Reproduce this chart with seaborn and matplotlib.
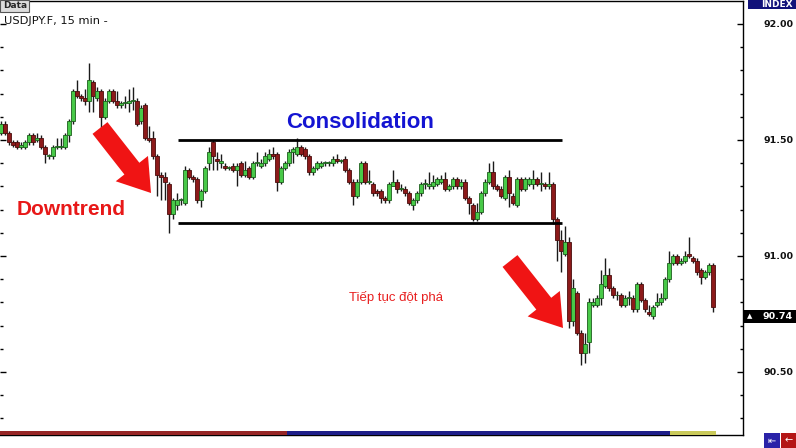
import matplotlib
matplotlib.use("Agg")
import matplotlib.pyplot as plt
import seaborn as sns
import numpy as np
from matplotlib.patches import Rectangle, FancyArrow
from matplotlib.ticker import MultipleLocator, FixedLocator

# USDJPY.F 15 min candles
opens = [
    91.53, 91.57, 91.53, 91.49, 91.49, 91.47, 91.47, 91.49, 91.52, 91.50,
    91.51, 91.47, 91.43, 91.43, 91.47, 91.47, 91.47, 91.52, 91.58, 91.71,
    91.69, 91.68, 91.67, 91.75, 91.68, 91.71, 91.60, 91.67, 91.71, 91.67,
    91.65, 91.66, 91.66, 91.67, 91.67, 91.58, 91.65, 91.51, 91.51, 91.43,
    91.35, 91.34, 91.31, 91.18, 91.22, 91.24, 91.23, 91.37, 91.34, 91.33,
    91.24, 91.28, 91.40, 91.49, 91.42, 91.40, 91.39, 91.38, 91.39, 91.37,
    91.40, 91.35, 91.38, 91.34, 91.40, 91.39, 91.40, 91.42, 91.44, 91.44,
    91.32, 91.38, 91.40, 91.45, 91.44, 91.47, 91.46, 91.43, 91.36, 91.38,
    91.39, 91.40, 91.40, 91.40, 91.42, 91.41, 91.42, 91.37, 91.32, 91.26,
    91.32, 91.40, 91.32, 91.31, 91.28, 91.28, 91.25, 91.24, 91.30, 91.32,
    91.29, 91.29, 91.27, 91.22, 91.24, 91.27, 91.31, 91.30, 91.30, 91.31,
    91.32, 91.33, 91.29, 91.30, 91.33, 91.30, 91.32, 91.25, 91.22, 91.16,
    91.19, 91.27, 91.32, 91.36, 91.30, 91.29, 91.25, 91.34, 91.26, 91.22,
    91.33, 91.29, 91.31, 91.31, 91.33, 91.31, 91.31, 91.30, 91.31, 91.16,
    91.07, 91.01, 91.06, 90.72, 90.84, 90.67, 90.58, 90.63, 90.79, 90.79,
    90.82, 90.87, 90.92, 90.86, 90.83, 90.83, 90.79, 90.82, 90.82, 90.77,
    90.88, 90.81, 90.76, 90.74, 90.79, 90.80, 90.82, 90.90, 90.97, 91.00,
    90.97, 90.98, 91.01, 90.99, 90.98, 90.94, 90.91, 90.93, 90.96,
]
highs = [
    91.58, 91.58, 91.54, 91.50, 91.50, 91.49, 91.50, 91.53, 91.53, 91.53,
    91.52, 91.48, 91.44, 91.48, 91.51, 91.51, 91.53, 91.59, 91.72, 91.76,
    91.70, 91.72, 91.83, 91.76, 91.73, 91.72, 91.68, 91.72, 91.72, 91.71,
    91.67, 91.69, 91.72, 91.73, 91.68, 91.65, 91.66, 91.56, 91.54, 91.44,
    91.36, 91.36, 91.32, 91.25, 91.27, 91.25, 91.39, 91.38, 91.35, 91.34,
    91.29, 91.39, 91.47, 91.50, 91.45, 91.44, 91.40, 91.39, 91.40, 91.40,
    91.41, 91.41, 91.39, 91.41, 91.45, 91.42, 91.45, 91.46, 91.47, 91.45,
    91.39, 91.41, 91.46, 91.47, 91.51, 91.48, 91.47, 91.44, 91.39, 91.41,
    91.41, 91.41, 91.41, 91.43, 91.44, 91.42, 91.43, 91.38, 91.33, 91.33,
    91.41, 91.41, 91.37, 91.32, 91.29, 91.29, 91.26, 91.32, 91.37, 91.33,
    91.31, 91.30, 91.28, 91.25, 91.28, 91.32, 91.33, 91.36, 91.35, 91.34,
    91.35, 91.36, 91.31, 91.34, 91.34, 91.33, 91.33, 91.26, 91.23, 91.23,
    91.28, 91.33, 91.40, 91.41, 91.31, 91.30, 91.35, 91.37, 91.27, 91.34,
    91.34, 91.34, 91.34, 91.37, 91.34, 91.36, 91.32, 91.36, 91.32, 91.17,
    91.11, 91.13, 91.08, 90.90, 90.85, 90.68, 90.67, 90.82, 90.82, 90.83,
    90.94, 90.99, 90.95, 90.87, 90.85, 90.84, 90.83, 90.85, 90.83, 90.89,
    90.89, 90.82, 90.79, 90.79, 90.84, 90.84, 90.91, 91.02, 91.01, 91.01,
    90.99, 91.02, 91.08, 91.00, 90.99, 90.95, 90.94, 90.97, 90.97,
]
lows = [
    91.52, 91.52, 91.48, 91.47, 91.46, 91.46, 91.46, 91.48, 91.48, 91.49,
    91.46, 91.40, 91.42, 91.42, 91.46, 91.46, 91.46, 91.49, 91.57, 91.68,
    91.67, 91.65, 91.62, 91.62, 91.67, 91.55, 91.59, 91.66, 91.66, 91.64,
    91.64, 91.64, 91.62, 91.63, 91.56, 91.57, 91.50, 91.49, 91.42, 91.26,
    91.24, 91.24, 91.10, 91.16, 91.20, 91.22, 91.22, 91.33, 91.32, 91.23,
    91.21, 91.27, 91.37, 91.37, 91.37, 91.38, 91.37, 91.37, 91.36, 91.30,
    91.34, 91.34, 91.33, 91.33, 91.39, 91.38, 91.39, 91.41, 91.42, 91.28,
    91.31, 91.37, 91.39, 91.40, 91.43, 91.43, 91.42, 91.35, 91.35, 91.37,
    91.38, 91.39, 91.39, 91.39, 91.40, 91.40, 91.36, 91.31, 91.22, 91.25,
    91.31, 91.31, 91.31, 91.26, 91.26, 91.23, 91.23, 91.23, 91.30, 91.27,
    91.28, 91.26, 91.22, 91.20, 91.23, 91.26, 91.29, 91.29, 91.29, 91.30,
    91.31, 91.28, 91.28, 91.29, 91.29, 91.29, 91.24, 91.18, 91.15, 91.15,
    91.18, 91.26, 91.31, 91.29, 91.28, 91.25, 91.24, 91.21, 91.22, 91.21,
    91.28, 91.28, 91.30, 91.29, 91.30, 91.28, 91.29, 91.29, 91.14, 90.98,
    90.93, 91.00, 90.69, 90.70, 90.66, 90.53, 90.54, 90.58, 90.78, 90.78,
    90.79, 90.86, 90.85, 90.82, 90.81, 90.78, 90.78, 90.79, 90.76, 90.76,
    90.80, 90.76, 90.74, 90.73, 90.78, 90.79, 90.81, 90.89, 90.96, 90.96,
    90.96, 90.97, 90.99, 90.97, 90.92, 90.88, 90.90, 90.92, 90.76,
]
closes = [
    91.57, 91.53, 91.49, 91.48, 91.47, 91.48, 91.49, 91.52, 91.49, 91.51,
    91.47, 91.44, 91.43, 91.47, 91.47, 91.47, 91.52, 91.58, 91.71, 91.69,
    91.68, 91.67, 91.76, 91.69, 91.71, 91.60, 91.67, 91.71, 91.67, 91.65,
    91.66, 91.66, 91.67, 91.67, 91.57, 91.64, 91.51, 91.50, 91.43, 91.35,
    91.34, 91.32, 91.18, 91.24, 91.24, 91.24, 91.37, 91.34, 91.33, 91.24,
    91.28, 91.38, 91.45, 91.43, 91.41, 91.41, 91.38, 91.38, 91.37, 91.39,
    91.35, 91.37, 91.34, 91.40, 91.40, 91.40, 91.43, 91.44, 91.43, 91.32,
    91.38, 91.40, 91.45, 91.46, 91.47, 91.44, 91.43, 91.36, 91.38, 91.40,
    91.40, 91.40, 91.40, 91.42, 91.41, 91.41, 91.37, 91.32, 91.26, 91.32,
    91.40, 91.32, 91.32, 91.27, 91.27, 91.25, 91.24, 91.31, 91.32, 91.29,
    91.29, 91.27, 91.23, 91.24, 91.27, 91.31, 91.31, 91.31, 91.32, 91.33,
    91.33, 91.29, 91.30, 91.33, 91.30, 91.32, 91.25, 91.23, 91.16, 91.19,
    91.27, 91.32, 91.36, 91.30, 91.29, 91.26, 91.34, 91.27, 91.23, 91.33,
    91.29, 91.33, 91.33, 91.33, 91.31, 91.31, 91.30, 91.31, 91.16, 91.07,
    91.02, 91.06, 90.72, 90.86, 90.67, 90.58, 90.62, 90.80, 90.80, 90.82,
    90.88, 90.92, 90.86, 90.83, 90.83, 90.79, 90.82, 90.82, 90.77, 90.88,
    90.81, 90.77, 90.75, 90.78, 90.80, 90.82, 90.90, 90.97, 91.00, 90.97,
    90.98, 91.00, 91.00, 90.98, 90.93, 90.91, 90.93, 90.96, 90.78,
]

price_ticks = [90.50, 91.00, 91.50, 92.00]
last_price = 90.74
range_top = 91.50
range_bottom = 91.144
range_start, range_end = 44.25, 140.25   # candle index span of the box

W, H = 796, 448

def fx(px):
    return px / W

def fy(py):
    return 1 - py / H

sns.set_style("white")
plt.rcParams["font.family"] = ["DejaVu Sans"]

fig = plt.figure(figsize=(W / 100, H / 100), dpi=100)
ax = fig.add_axes([0, fy(435), fx(743), (435 - 1) / H])

x = np.arange(len(closes))
o = np.array(opens)
c = np.array(closes)
up = c >= o
body_col = np.where(up, "#48c948", "#8c1a1a")
edge_col = np.where(up, "#1d5e1d", "#4a0c0c")

ax.vlines(x, lows, highs, color="#1a1a1a", lw=1, zorder=2)
ax.bar(x, np.maximum(np.abs(c - o), 0.004), bottom=np.minimum(o, c), width=0.78,
       color=body_col, edgecolor=edge_col, linewidth=0.6, zorder=3)

# consolidation box
ax.hlines([range_top, range_bottom], range_start, range_end, color="black", lw=2, zorder=4)

ax.set_xlim(-0.25, 185.5)
ax.set_ylim(90.2284, 92.0991)
ax.set_xticks([])

ax.yaxis.set_major_locator(FixedLocator(price_ticks))
ax.yaxis.set_minor_locator(MultipleLocator(0.1))
ax.set_yticklabels([f"{p:.2f}" for p in price_ticks])
ax.tick_params(axis="y", which="both", direction="in", left=True, right=True,
               labelleft=False, labelright=True, color="black", width=1)
ax.tick_params(axis="y", which="major", length=4, pad=36, labelsize=6.8)
ax.tick_params(axis="y", which="minor", length=2.5)
for lab in ax.get_yticklabels():
    lab.set_horizontalalignment("right")
    lab.set_fontweight("bold")
    lab.set_color("#111111")

for side in ["top", "right", "bottom"]:
    ax.spines[side].set_color("black")
    ax.spines[side].set_linewidth(1)
ax.spines["left"].set_visible(False)

# scroll bar along the bottom
for x0, x1, col in [(0, 287, "#962626"), (287, 670, "#1e1e88"), (670, 716, "#c9c95a")]:
    fig.add_artist(Rectangle((fx(x0), fy(435)), fx(x1 - x0), 4 / H,
                             transform=fig.transFigure, color=col, lw=0))

# right panel widgets
fig.add_artist(Rectangle((fx(748), fy(9)), fx(48), 9 / H, transform=fig.transFigure,
                         color="#12127a", lw=0))
fig.text(fx(793), fy(4.5), "INDEX", color="white", fontsize=6.5, fontweight="bold",
         ha="right", va="center")

py_last = (92.0 - last_price) * 232 + 24
fig.add_artist(Rectangle((fx(744), fy(py_last + 6.5)), fx(52), 13 / H,
                         transform=fig.transFigure, color="black", lw=0))
fig.text(fx(750), fy(py_last), "▲", color="white", fontsize=5, ha="center", va="center")
fig.text(fx(793), fy(py_last), f"{last_price:.2f}", color="white", fontsize=6.8,
         fontweight="bold", ha="right", va="center")

fig.add_artist(Rectangle((fx(764), fy(448)), fx(16), 15 / H, transform=fig.transFigure,
                         color="#2a22a8", lw=0))
fig.add_artist(Rectangle((fx(781), fy(448)), fx(15), 15 / H, transform=fig.transFigure,
                         color="#b41616", lw=0))
fig.text(fx(772), fy(440.5), "⇤", color="white", fontsize=7, ha="center", va="center")
fig.text(fx(788.5), fy(440.5), "←", color="white", fontsize=7, ha="center", va="center")

# header
fig.add_artist(Rectangle((fx(0), fy(12)), fx(29), 12 / H, transform=fig.transFigure,
                         facecolor="#dcdcdc", edgecolor="#555555", lw=0.8))
fig.text(fx(3), fy(6), "Data", fontsize=6.5, fontweight="bold", ha="left", va="center")
fig.text(fx(4), fy(21), "USDJPY.F, 15 min -", fontsize=8.2, ha="left", va="center",
         color="#111111")

# annotations
fig.text(fx(360), fy(122), "Consolidation", fontsize=16, fontweight="bold",
         color="#1414d2", ha="center", va="center", family="Liberation Sans")
fig.text(fx(71), fy(209), "Downtrend", fontsize=15, fontweight="bold",
         color="#e81818", ha="center", va="center", family="Liberation Sans")
fig.text(fx(396), fy(298), "Tiếp tục đột phá", fontsize=9.5,
         color="#e82020", ha="center", va="center", family="Liberation Sans")

for (tx, ty), (hx, hy) in [((100, 128), (151, 193)), ((510, 261), (563, 328))]:
    arrow = FancyArrow(tx / 100, (H - ty) / 100, (hx - tx) / 100, -(hy - ty) / 100,
                       width=0.19, head_width=0.41, head_length=0.31,
                       length_includes_head=True, color="#f01414", lw=0,
                       transform=fig.dpi_scale_trans)
    fig.add_artist(arrow)

fig.savefig("out.png", dpi=100)
